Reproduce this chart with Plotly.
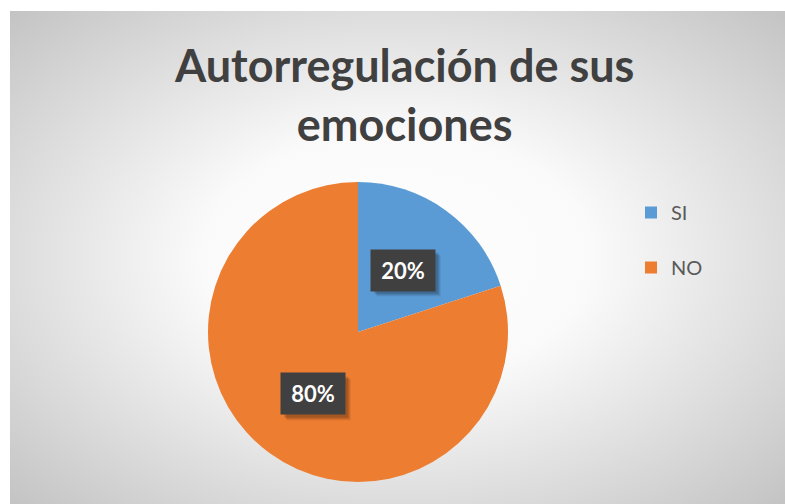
import base64
import math
import plotly.graph_objects as go

# datos del gráfico
etiquetas = ["SI", "NO"]
porcentajes = [20, 80]
colores = ["#5B9BD5", "#ED7D31"]
titulo = "Autorregulación de sus<br>emociones"

W, H = 785, 504

# fondo con degradado radial (blanco al centro, gris en los bordes)
svg = (
    '<svg xmlns="http://www.w3.org/2000/svg" width="400" height="260" '
    'preserveAspectRatio="none" viewBox="0 0 400 260">'
    '<defs><radialGradient id="g" cx="50%" cy="50%" r="72%">'
    '<stop offset="0%" stop-color="#ffffff"/>'
    '<stop offset="35%" stop-color="#fafafa"/>'
    '<stop offset="100%" stop-color="#c2c2c2"/>'
    '</radialGradient></defs>'
    '<rect width="400" height="260" fill="url(#g)"/></svg>'
)
fondo = "data:image/svg+xml;base64," + base64.b64encode(svg.encode()).decode()

# dominio del pie (cuadrado de ~300 px)
cx, cy, R = 358, 332, 150
dom_x = [(cx - R) / W, (cx + R) / W]
dom_y = [1 - (cy + R) / H, 1 - (cy - R) / H]

# la leyenda del original deja mucho aire entre entradas: línea extra vacía
nombres_leyenda = [e + "<br> " for e in etiquetas]

fig = go.Figure(go.Pie(
    labels=nombres_leyenda,
    values=porcentajes,
    customdata=etiquetas,
    marker=dict(colors=colores, line=dict(width=0)),
    sort=False,
    direction="clockwise",
    rotation=0,
    textinfo="none",
    domain=dict(x=dom_x, y=dom_y),
    hovertemplate="%{customdata}: %{percent}<extra></extra>",
))

# etiquetas de datos en cajas oscuras, en el ángulo medio de cada porción
total = sum(porcentajes)
acum = 0
bw, bh = 64, 41
for v in porcentajes:
    ang = math.radians((acum + v / 2) / total * 360)
    acum += v
    px_ = cx + 0.51 * R * math.sin(ang)
    py_ = cy - 0.51 * R * math.cos(ang)
    texto = f"{round(v / total * 100)}%"
    # sombra difusa
    for d, a in [(6, 0.06), (5, 0.08), (4, 0.1), (3, 0.1)]:
        fig.add_shape(
            type="rect", xref="paper", yref="paper", layer="above",
            x0=(px_ - bw / 2 + d) / W, x1=(px_ + bw / 2 + d) / W,
            y0=1 - (py_ + bh / 2 + d) / H, y1=1 - (py_ - bh / 2 + d) / H,
            fillcolor=f"rgba(0,0,0,{a})", line=dict(width=0),
        )
    fig.add_annotation(
        x=px_ / W, y=1 - py_ / H, xref="paper", yref="paper",
        xanchor="center", yanchor="middle",
        text=f"<b>{texto}</b>", showarrow=False,
        width=bw - 12, height=bh - 12, borderpad=6,
        bgcolor="#404040", font=dict(color="white", size=22, family="Lato"),
    )

fig.add_annotation(
    x=404 / W, y=1 - 36 / H, xref="paper", yref="paper",
    xanchor="center", yanchor="top", showarrow=False,
    text=f"<b>{titulo}</b>",
    font=dict(family="Lato", size=45, color="#404040"),
)

fig.update_layout(
    width=W, height=H,
    margin=dict(l=0, r=0, t=0, b=0),
    paper_bgcolor="white",
    images=[dict(
        source=fondo, xref="paper", yref="paper",
        x=10 / W, y=1 - 11 / H, sizex=1 - 10 / W, sizey=1 - 11 / H,
        xanchor="left", yanchor="top", sizing="stretch", layer="below",
    )],
    legend=dict(
        x=631 / W, y=1 - 193 / H, xanchor="left", yanchor="top",
        font=dict(family="Lato", size=20, color="#595959"),
        bgcolor="rgba(0,0,0,0)", valign="top",
    ),
    showlegend=True,
)

fig.write_html("out.html", config={"displayModeBar": False},
               post_script="document.body.style.margin='0';")
